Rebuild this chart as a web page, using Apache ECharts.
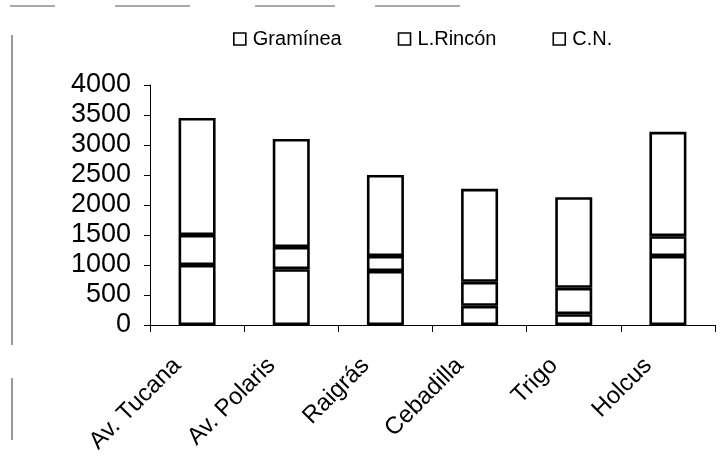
<!DOCTYPE html>
<html>
<head>
<meta charset="utf-8">
<script src="https://cdn.jsdelivr.net/npm/echarts@6/dist/echarts.min.js"></script>
<style>
html,body{margin:0;padding:0;background:#fff;}
#chart{width:721px;height:467px;}
</style>
</head>
<body>
<div id="chart"></div>
<script>
var categories = ['Av. Tucana', 'Av. Polaris', 'Raigrás', 'Cebadilla', 'Trigo', 'Holcus'];
var seriesNames = ['Gramínea', 'L.Rincón', 'C.N.'];
var graminea = [1000, 930, 900, 320, 180, 1150];
var lrincon = [500, 370, 250, 400, 440, 330];
var cn = [1950, 1800, 1350, 1550, 1510, 1740];
var yTicks = { min: 0, max: 4000, interval: 500 };

var FONT = '"Liberation Sans", Arial, sans-serif';
var chart = echarts.init(document.getElementById('chart'), null, { renderer: 'canvas' });

function barSeries(name, data) {
  return {
    name: name,
    type: 'bar',
    stack: 'total',
    barWidth: 37,
    data: data,
    itemStyle: { color: '#ffffff', borderColor: '#000000', borderWidth: 2.6 },
    emphasis: { disabled: true }
  };
}

var option = {
  backgroundColor: '#ffffff',
  animation: false,
  textStyle: { fontFamily: FONT, color: '#000' },
  legend: {
    left: 228,
    top: 22,
    itemWidth: 12,
    itemHeight: 12,
    itemGap: 56,
    icon: 'rect',
    itemStyle: { color: '#ffffff', borderColor: '#000', borderWidth: 1.6 },
    textStyle: { fontFamily: FONT, fontSize: 20, color: '#000', padding: [0, 0, 0, 2], lineHeight: 24 },
    data: seriesNames
  },
  grid: { left: 150, right: 6, top: 85, bottom: 142 },
  xAxis: {
    type: 'category',
    data: categories,
    boundaryGap: true,
    axisLine: { show: true, lineStyle: { color: '#000', width: 1 } },
    axisTick: { show: true, length: 7, lineStyle: { color: '#000', width: 1 } },
    axisLabel: {
      rotate: 45,
      interval: 0,
      margin: 17,
      fontSize: 24,
      fontFamily: FONT,
      color: '#000',
      padding: [0, 28, 0, 0]
    },
    splitLine: { show: false }
  },
  yAxis: {
    type: 'value',
    min: yTicks.min,
    max: yTicks.max,
    interval: yTicks.interval,
    axisLine: { show: true, lineStyle: { color: '#000', width: 1 } },
    axisTick: { show: true, length: 6, lineStyle: { color: '#000', width: 1 } },
    axisLabel: {
      fontSize: 27, fontFamily: FONT, color: '#000', margin: 19,
      formatter: function (v) { return String(v); }
    },
    splitLine: { show: false }
  },
  graphic: [
    { type: 'line', shape: { x1: 12, y1: 35, x2: 12, y2: 345 }, style: { stroke: '#333', lineWidth: 1 } },
    { type: 'line', shape: { x1: 12, y1: 378, x2: 12, y2: 440 }, style: { stroke: '#333', lineWidth: 1 } },
    { type: 'line', shape: { x1: 10, y1: 6, x2: 55, y2: 6 }, style: { stroke: '#555', lineWidth: 1 } },
    { type: 'line', shape: { x1: 115, y1: 6, x2: 190, y2: 6 }, style: { stroke: '#555', lineWidth: 1 } },
    { type: 'line', shape: { x1: 255, y1: 6, x2: 335, y2: 6 }, style: { stroke: '#555', lineWidth: 1 } },
    { type: 'line', shape: { x1: 375, y1: 6, x2: 460, y2: 6 }, style: { stroke: '#555', lineWidth: 1 } }
  ],
  series: [
    barSeries(seriesNames[0], graminea),
    barSeries(seriesNames[1], lrincon),
    barSeries(seriesNames[2], cn)
  ]
};
chart.setOption(option);
</script>
</body>
</html>
